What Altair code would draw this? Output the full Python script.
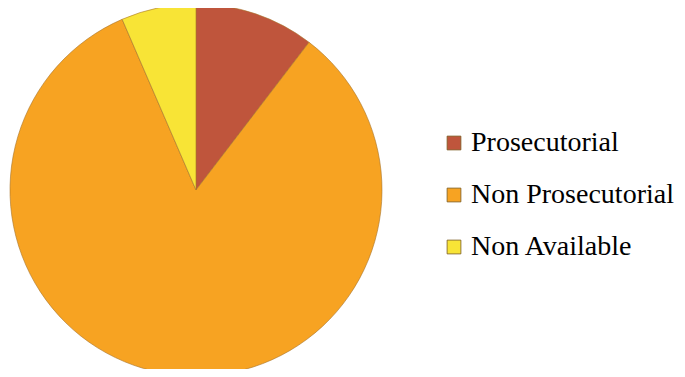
import altair as alt
import pandas as pd

categories = ["Prosecutorial", "Non Prosecutorial", "Non Available"]
values = [10.4, 83.1, 6.5]
colors = ["#bf553c", "#f7a322", "#f8e436"]

df = pd.DataFrame({"category": categories, "value": values, "order": [0, 1, 2]})

chart = alt.Chart(df).mark_arc(radius=186, stroke="#a8742a", strokeWidth=0.6).encode(
    theta=alt.Theta("value:Q", stack=True),
    order=alt.Order("order:Q"),
    color=alt.Color(
        "category:N",
        scale=alt.Scale(domain=categories, range=colors),
        sort=categories,
        legend=alt.Legend(
            title=None,
            orient="none",
            legendX=432,
            legendY=121,
            labelFont="Liberation Serif",
            labelFontSize=28,
            labelColor="#000000",
            labelLimit=400,
            symbolType="square",
            symbolSize=190,
            symbolStrokeColor="#7a5a20",
            symbolStrokeWidth=0.8,
            rowPadding=24,
            labelOffset=3,
        ),
    ),
    x=alt.value(188),
    y=alt.value(182),
).properties(
    width=669,
    height=361,
    autosize=alt.AutoSizeParams(type="none"),
    padding=0,
).configure_view(stroke=None)

chart.save("out.html", embed_options={"renderer": "svg", "actions": False})
